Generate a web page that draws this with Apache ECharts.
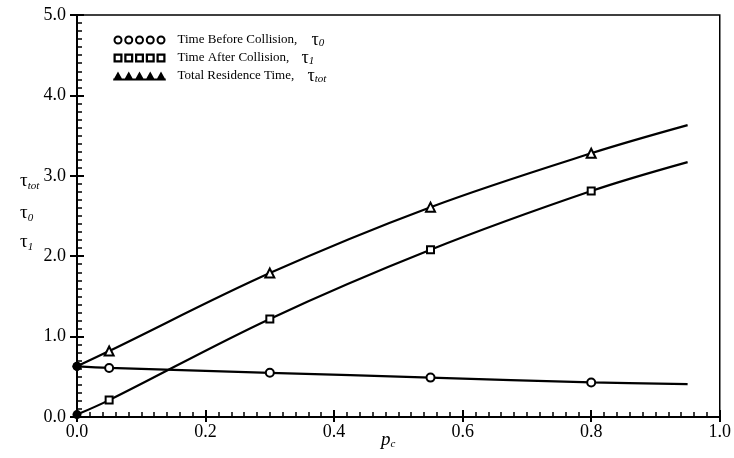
<!DOCTYPE html>
<html>
<head>
<meta charset="utf-8">
<script src="https://cdn.jsdelivr.net/npm/echarts@6/dist/echarts.min.js"></script>
<style>html,body{margin:0;padding:0;background:#fff}#c{width:734px;height:458px}</style>
</head>
<body>
<div id="c"></div>
<script>
// ---- data ----
var pc      = [0, 0.05, 0.3, 0.55, 0.8, 0.95];
var tau0    = [0.63, 0.61, 0.55, 0.49, 0.43, 0.41];
var tau1    = [0.03, 0.21, 1.22, 2.08, 2.81, 3.17];
var tauTot  = [0.63, 0.82, 1.79, 2.61, 3.28, 3.63];
var markerShown = [true, true, true, true, true, false];
var seriesNames = ['Time Before Collision', 'Time After Collision', 'Total Residence Time'];
var seriesSubs  = ['0', '1', 'tot'];
var xTicks = [0, 0.2, 0.4, 0.6, 0.8, 1.0];
var yTicks = [0, 1, 2, 3, 4, 5];

var FONT = 'Liberation Serif';

function ringsPath() {
  var s = '';
  for (var i = 0; i < 5; i++) {
    var cx = 9 + i * 21.5, R = 9, r = 5;
    s += 'M' + (cx - R) + ',9 A' + R + ',' + R + ' 0 1,1 ' + (cx + R) + ',9 A' + R + ',' + R + ' 0 1,1 ' + (cx - R) + ',9 Z ';
    s += 'M' + (cx - r) + ',9 A' + r + ',' + r + ' 0 1,0 ' + (cx + r) + ',9 A' + r + ',' + r + ' 0 1,0 ' + (cx - r) + ',9 Z ';
  }
  return 'path://' + s;
}
function squaresPath() {
  var s = '';
  for (var i = 0; i < 5; i++) {
    var x = 0.5 + i * 21.5;
    s += 'M' + x + ',0 h18 v18 h-18 Z ';
    s += 'M' + (x + 4.5) + ',4.5 v9 h9 v-9 Z ';
  }
  return 'path://' + s;
}
function trianglesPath() {
  var s = 'M0,14 h105 v4 h-105 Z ';
  for (var i = 0; i < 5; i++) {
    var cx = 9.5 + i * 21.5;
    s += 'M' + (cx - 10) + ',18 L' + cx + ',0 L' + (cx + 10) + ',18 Z ';
  }
  return 'path://' + s;
}
var icons = [ringsPath(), squaresPath(), trianglesPath()];
var symbols = ['emptyCircle', 'emptyRect', 'emptyTriangle'];
var sizes = [8, 7, 9];
var values = [tau0, tau1, tauTot];

function buildData(vals, k) {
  return pc.map(function (x, i) {
    var d = { value: [x, vals[i]] };
    if (!markerShown[i]) d.symbol = 'none';
    if (i === 0) { d.symbol = 'circle'; d.symbolSize = 9; }
    return d;
  });
}

var series = seriesNames.map(function (n, k) {
  return {
    name: n,
    type: 'line',
    xAxisIndex: 0, yAxisIndex: 0,
    smooth: 0.35,
    symbol: symbols[k],
    symbolSize: sizes[k],
    showAllSymbol: true,
    color: '#000',
    itemStyle: { color: '#000', borderWidth: 1.9 },
    lineStyle: { color: '#000', width: 2.2 },
    data: buildData(values[k], k),
    z: 3
  };
});

var chart = echarts.init(document.getElementById('c'));
var labelStyle = { color: '#000', fontFamily: FONT, fontSize: 18 };
var subMap = {};
seriesNames.forEach(function (n, k) { subMap[n] = seriesSubs[k]; });

chart.setOption({
  animation: false,
  backgroundColor: '#fff',
  grid: { left: 77, right: 12, top: 15, bottom: 41, show: true, borderColor: '#000', borderWidth: 1.5, backgroundColor: 'transparent' },
  legend: {
    orient: 'vertical',
    left: 113, top: 31, padding: 0,
    itemWidth: 54, itemHeight: 9, itemGap: 0,
    data: seriesNames.map(function (n, k) { return { name: n, icon: icons[k] }; }),
    itemStyle: { color: '#000', borderWidth: 0 },
    lineStyle: { width: 0 },
    formatter: function (name) {
      var key = name === 'Time Before Collision' ? 't0' : (name === 'Time After Collision' ? 't1' : 't2');
      return '{' + key + '|' + name + ',}{tau|τ}{sub|' + subMap[name] + '}';
    },
    textStyle: {
      color: '#000', fontFamily: FONT, fontSize: 13,
      rich: {
        t0: { fontFamily: FONT, fontSize: 13, color: '#000', width: 134, padding: [0, 0, 0, 6] },
        t1: { fontFamily: FONT, fontSize: 13, color: '#000', width: 124, padding: [0, 0, 0, 6] },
        t2: { fontFamily: FONT, fontSize: 13, color: '#000', width: 130, padding: [0, 0, 0, 6] },
        tau: { fontFamily: FONT, fontSize: 18, color: '#000' },
        sub: { fontFamily: FONT, fontSize: 11, fontStyle: 'italic', color: '#000', padding: [7, 0, 0, 0] }
      }
    }
  },
  xAxis: [{
    type: 'value', min: 0, max: 1, interval: 0.2,
    axisLine: { show: true, onZero: false, lineStyle: { color: '#000', width: 2 } },
    axisTick: { show: true, inside: false, length: 5, lineStyle: { color: '#000', width: 2 } },
    minorTick: { show: false },
    splitLine: { show: false },
    axisLabel: Object.assign({ margin: 6, formatter: function (v) { return xTicks.indexOf(+v.toFixed(1)) >= 0 ? v.toFixed(1) : ''; } }, labelStyle)
  }, {
    type: 'value', min: 0, max: 1, interval: 0.2, position: 'bottom',
    axisLine: { show: false, onZero: false },
    axisTick: { show: true, inside: true, length: 7, lineStyle: { color: '#000', width: 2 } },
    minorTick: { show: true, splitNumber: 10, length: 5, lineStyle: { color: '#000', width: 1.5 } },
    splitLine: { show: false },
    axisLabel: { show: false }
  }],
  yAxis: [{
    type: 'value', min: 0, max: 5, interval: 1,
    axisLine: { show: true, onZero: false, lineStyle: { color: '#000', width: 2 } },
    axisTick: { show: true, inside: false, length: 7, lineStyle: { color: '#000', width: 2 } },
    minorTick: { show: false },
    splitLine: { show: false },
    axisLabel: Object.assign({ margin: 11, formatter: function (v) { return yTicks.indexOf(Math.round(v)) >= 0 ? v.toFixed(1) : ''; } }, labelStyle)
  }, {
    type: 'value', min: 0, max: 5, interval: 1, position: 'left',
    axisLine: { show: false, onZero: false },
    axisTick: { show: true, inside: true, length: 7, lineStyle: { color: '#000', width: 2 } },
    minorTick: { show: true, splitNumber: 10, length: 5, lineStyle: { color: '#000', width: 1.5 } },
    splitLine: { show: false },
    axisLabel: { show: false }
  }],
  graphic: [
    { type: 'text', left: 20, top: 172, style: { rich: { a: { fontFamily: FONT, fontSize: 19, fill: '#000' }, b: { fontFamily: FONT, fontSize: 11, fontStyle: 'italic', fill: '#000', padding: [9, 0, 0, 0] } }, text: '{a|τ}{b|tot}' } },
    { type: 'text', left: 20, top: 204, style: { rich: { a: { fontFamily: FONT, fontSize: 19, fill: '#000' }, b: { fontFamily: FONT, fontSize: 11, fontStyle: 'italic', fill: '#000', padding: [9, 0, 0, 0] } }, text: '{a|τ}{b|0}' } },
    { type: 'text', left: 20, top: 233, style: { rich: { a: { fontFamily: FONT, fontSize: 19, fill: '#000' }, b: { fontFamily: FONT, fontSize: 11, fontStyle: 'italic', fill: '#000', padding: [9, 0, 0, 0] } }, text: '{a|τ}{b|1}' } },
    { type: 'text', left: 381, top: 430, style: { rich: { a: { fontFamily: FONT, fontSize: 19, fontStyle: 'italic', fill: '#000' }, b: { fontFamily: FONT, fontSize: 11, fontStyle: 'italic', fill: '#000', padding: [10, 0, 0, 0] } }, text: '{a|p}{b|c}' } }
  ],
  series: series
});
</script>
</body>
</html>
